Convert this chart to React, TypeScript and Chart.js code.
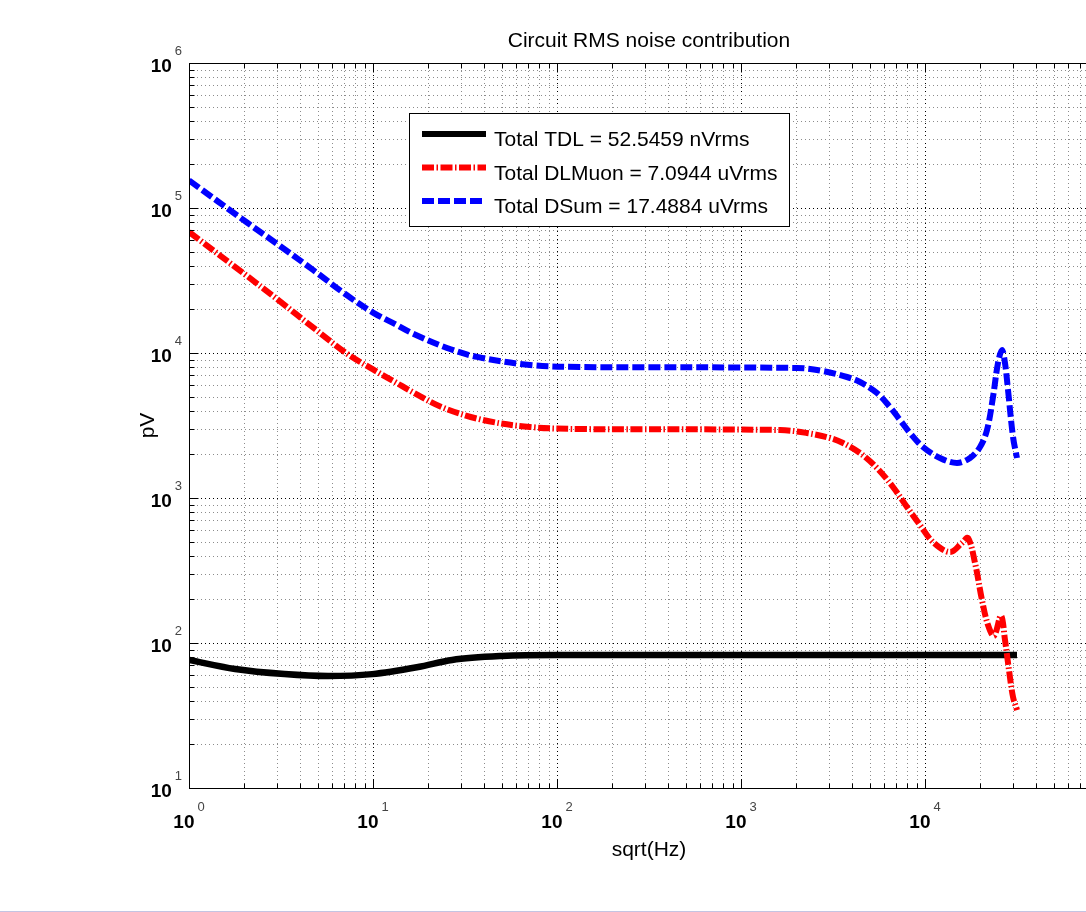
import React, { useEffect, useRef } from 'react';
import { Chart, registerables } from 'chart.js';

Chart.register(...registerables);

// ---------- data ----------
const TITLE = 'Circuit RMS noise contribution';
const X_LABEL = 'sqrt(Hz)';
const Y_LABEL = 'pV';
const X_EXPONENTS = [0, 1, 2, 3, 4, 5];
const Y_EXPONENTS = [1, 2, 3, 4, 5, 6];

const tdlLabel = 'Total TDL = 52.5459 nVrms';
const tdlX = [1, 1.78, 3.3, 5.7, 9.9, 17.6, 26.9, 50, 100, 1000, 10000, 31620];
const tdlY = [76.4, 66.2, 61.1, 59.2, 61, 68.3, 76.4, 81.3, 82.6, 82.6, 82.6, 82.6];

const dlmLabel = 'Total DLMuon = 7.0944 uVrms';
const dlmX = [1, 2.066, 3.123, 4.72, 7.22, 10, 13.2, 16.5, 24.0, 39.6, 71.3, 133, 1629, 2284, 3046, 3584, 4434, 5484,
  6700, 7984, 9394, 11050, 13670, 15890, 17130, 18700, 20400, 22000, 23710, 25880, 27210, 28610, 30090, 31620];
const dlmY = [68300, 34000, 22700, 15000, 9900, 7700, 6300, 5350, 4200, 3451, 3088, 2991, 2944, 2807, 2593, 2395, 2043, 1610,
  1191, 867, 651, 497, 424, 490, 530, 356, 198, 133, 112, 154, 105, 65, 42.4, 34.5];

const dsumLabel = 'Total DSum = 17.4884 uVrms';
const dsumX = [1, 2.066, 3.123, 4.72, 7.22, 10, 13.2, 16.5, 25.25, 36.75, 71.3, 133, 2015, 2791, 3768, 4434, 5484, 6452,
  7313, 8286, 9752, 12060, 14920, 17570, 19910, 21730, 23420, 24930, 26210, 27210, 28260, 30090, 31620];
const dsumY = [155000, 79500, 54700, 37400, 25000, 19000, 15800, 13600, 10830, 9400, 8266, 8008, 7880, 7515, 6831, 6310, 5299, 4242,
  3451, 2807, 2247, 1888, 1743, 1888, 2247, 2944, 4973, 8531, 10490, 8531, 5557, 2634, 1888];

const FONT = '"Liberation Sans", Arial, Helvetica, sans-serif';

function pts(xs: number[], ys: number[]) {
  return xs.map((x, i) => ({ x, y: ys[i] }));
}

function logTicks(min: number, max: number) {
  const out: { value: number; major: boolean }[] = [];
  const e0 = Math.floor(Math.log10(min));
  const e1 = Math.ceil(Math.log10(max));
  for (let e = e0; e <= e1; e++) {
    for (let m = 1; m <= 9; m++) {
      const v = m * Math.pow(10, e);
      if (v >= min * 0.9999 && v <= max * 1.0001) out.push({ value: v, major: m === 1 });
    }
  }
  return out;
}

function drawPow(ctx: CanvasRenderingContext2D, e: number, cx: number, baseY: number, mode: 'center' | 'right', rightEdge = 0) {
  const baseFont = `bold 19px ${FONT}`;
  const expFont = `13px ${FONT}`;
  ctx.font = baseFont;
  const wb = ctx.measureText('10').width;
  ctx.font = expFont;
  const we = ctx.measureText(String(e)).width;
  const gap = 3;
  const total = wb + gap + we;
  const x0 = mode === 'center' ? cx - total / 2 : rightEdge - total;
  ctx.textAlign = 'left';
  ctx.textBaseline = 'alphabetic';
  ctx.font = baseFont;
  ctx.fillStyle = '#000';
  ctx.fillText('10', x0, baseY);
  ctx.font = expFont;
  ctx.fillStyle = '#444';
  ctx.fillText(String(e), x0 + wb + gap, baseY - 17);
}

const decor = {
  id: 'decor',
  beforeDatasetsDraw(chart: any) {
    const { ctx, chartArea: a, scales } = chart;
    const xs = scales.x;
    const ys = scales.y;
    ctx.save();
    ctx.lineWidth = 1;
    ctx.setLineDash([1, 3]);
    for (const t of logTicks(xs.min, xs.max)) {
      const px = Math.round(xs.getPixelForValue(t.value)) + 0.5;
      ctx.strokeStyle = t.major ? '#000' : '#8c8c8c';
      ctx.beginPath();
      ctx.moveTo(px, a.top);
      ctx.lineTo(px, a.bottom);
      ctx.stroke();
    }
    for (const t of logTicks(ys.min, ys.max)) {
      const py = Math.round(ys.getPixelForValue(t.value)) + 0.5;
      ctx.strokeStyle = t.major ? '#000' : '#8c8c8c';
      ctx.beginPath();
      ctx.moveTo(a.left, py);
      ctx.lineTo(a.right, py);
      ctx.stroke();
    }
    ctx.restore();
  },
  afterDatasetsDraw(chart: any) {
    const { ctx, chartArea: a, scales } = chart;
    const xs = scales.x;
    const ys = scales.y;
    ctx.save();
    ctx.setLineDash([]);
    ctx.strokeStyle = '#000';
    ctx.lineWidth = 1;
    // box
    const L = Math.round(a.left) + 0.5;
    const T = Math.round(a.top) + 0.5;
    const B = Math.round(a.bottom) + 0.5;
    const R = Math.round(a.right) + 0.5;
    ctx.strokeRect(L, T, R - L, B - T);
    // inward tick marks
    for (const t of logTicks(xs.min, xs.max)) {
      const px = Math.round(xs.getPixelForValue(t.value)) + 0.5;
      const len = t.major ? 9 : 5;
      ctx.beginPath();
      ctx.moveTo(px, B);
      ctx.lineTo(px, B - len);
      ctx.moveTo(px, T);
      ctx.lineTo(px, T + len);
      ctx.stroke();
    }
    for (const t of logTicks(ys.min, ys.max)) {
      const py = Math.round(ys.getPixelForValue(t.value)) + 0.5;
      const len = t.major ? 9 : 5;
      ctx.beginPath();
      ctx.moveTo(L, py);
      ctx.lineTo(L + len, py);
      ctx.moveTo(R, py);
      ctx.lineTo(R - len, py);
      ctx.stroke();
    }
    // tick labels
    for (const e of X_EXPONENTS) {
      const px = xs.getPixelForValue(Math.pow(10, e));
      drawPow(ctx, e, px, a.bottom + 40, 'center');
    }
    for (const e of Y_EXPONENTS) {
      const py = ys.getPixelForValue(Math.pow(10, e));
      drawPow(ctx, e, 0, py + 9, 'right', a.left - 7);
    }
    // title and axis labels
    ctx.fillStyle = '#000';
    ctx.textAlign = 'center';
    ctx.textBaseline = 'alphabetic';
    ctx.font = `21px ${FONT}`;
    ctx.fillText(TITLE, (a.left + a.right) / 2, 47);
    ctx.fillText(X_LABEL, (a.left + a.right) / 2, a.bottom + 68);
    ctx.save();
    ctx.translate(154, (a.top + a.bottom) / 2);
    ctx.rotate(-Math.PI / 2);
    ctx.fillText(Y_LABEL, 0, 0);
    ctx.restore();
    // legend
    const bx = 409, by = 113, bw = 380, bh = 113;
    ctx.fillStyle = '#fff';
    ctx.fillRect(bx, by, bw, bh);
    ctx.strokeStyle = '#000';
    ctx.lineWidth = 1;
    ctx.strokeRect(bx + 0.5, by + 0.5, bw, bh);
    const rows = [146, 179.5, 213];
    chart.data.datasets.forEach((ds: any, i: number) => {
      const ly = rows[i] - 12;
      ctx.save();
      ctx.strokeStyle = ds.borderColor;
      ctx.lineWidth = 6;
      ctx.lineCap = 'butt';
      ctx.setLineDash(ds.borderDash || []);
      ctx.beginPath();
      ctx.moveTo(422, ly);
      ctx.lineTo(486, ly);
      ctx.stroke();
      ctx.restore();
      ctx.fillStyle = '#000';
      ctx.textAlign = 'left';
      ctx.font = `21px ${FONT}`;
      ctx.fillText(ds.label, 494, rows[i]);
    });
    ctx.restore();
  },
};

export default function App() {
  const ref = useRef<HTMLCanvasElement | null>(null);
  useEffect(() => {
    if (!ref.current) return;
    const chart = new Chart(ref.current, {
      type: 'scatter',
      data: {
        datasets: [
          {
            label: tdlLabel,
            data: pts(tdlX, tdlY),
            showLine: true,
            borderColor: '#000000',
            borderWidth: 6.5,
            pointRadius: 0,
            cubicInterpolationMode: 'monotone',
            borderCapStyle: 'butt',
            order: 3,
          },
          {
            label: dlmLabel,
            data: pts(dlmX, dlmY),
            showLine: true,
            borderColor: '#ff0000',
            borderWidth: 6,
            borderDash: [12, 2.5, 1.5, 2.5],
            pointRadius: 0,
            tension: 0.35,
            borderCapStyle: 'butt',
            order: 2,
          },
          {
            label: dsumLabel,
            data: pts(dsumX, dsumY),
            showLine: true,
            borderColor: '#0000ff',
            borderWidth: 6,
            borderDash: [12, 4],
            pointRadius: 0,
            tension: 0.35,
            borderCapStyle: 'butt',
            order: 1,
          },
        ],
      } as any,
      options: {
        responsive: false,
        animation: false,
        layout: { padding: { left: 189, top: 63, right: 21, bottom: 123 } },
        plugins: {
          legend: { display: false },
          title: { display: false },
          tooltip: { enabled: false },
        },
        scales: {
          x: { type: 'logarithmic', min: 1, max: 100000, display: false },
          y: { type: 'logarithmic', min: 10, max: 1000000, display: false },
        },
      } as any,
      plugins: [decor as any],
    });
    return () => chart.destroy();
  }, []);
  return (
    <div style={{ position: 'fixed', left: 0, top: 0, width: 1086, height: 912, overflow: 'hidden', background: '#fff' }}>
      <canvas ref={ref} width={1130} height={911} style={{ display: 'block' }} />
      <div style={{ position: 'absolute', left: 0, top: 911, width: 1086, height: 1, background: '#c4c4e2' }} />
    </div>
  );
}
